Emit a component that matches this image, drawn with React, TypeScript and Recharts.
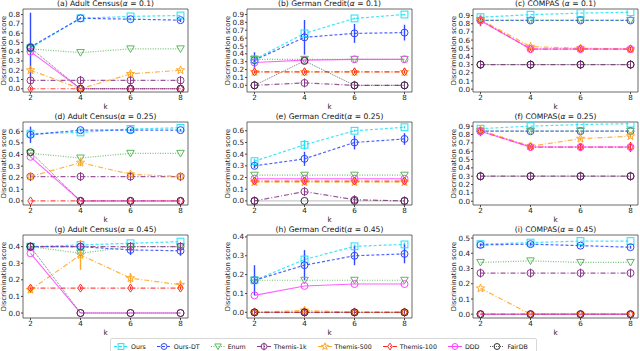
import React from "react";
import { LineChart, Line, XAxis, YAxis, ErrorBar, ReferenceArea } from "recharts";

// x values shared by every panel
const K = [2, 4, 6, 8];

const PANEL_NAMES = [
  "(a) Adult Census", "(b) German Credit", "(c) COMPAS ",
  "(d) Adult Census", "(e) German Credit", "(f) COMPAS",
  "(g) Adult Census", "(h) German Credit", "(i) COMPAS",
];
const ALPHAS = ["0.1", "0.1", "0.1", "0.25", "0.25", "0.25", "0.45", "0.45", "0.45"];

const Y_TICKS = [
  [0, 0.1, 0.2, 0.3, 0.4, 0.5, 0.6, 0.7, 0.8],
  [0, 0.1, 0.2, 0.3, 0.4, 0.5, 0.6, 0.7, 0.8, 0.9],
  [0, 0.1, 0.2, 0.3, 0.4, 0.5, 0.6, 0.7, 0.8, 0.9],
  [0, 0.1, 0.2, 0.3, 0.4, 0.5, 0.6],
  [0, 0.1, 0.2, 0.3, 0.4, 0.5, 0.6],
  [0, 0.1, 0.2, 0.3, 0.4, 0.5, 0.6, 0.7, 0.8, 0.9],
  [0, 0.1, 0.2, 0.3, 0.4],
  [0, 0.1, 0.2, 0.3, 0.4],
  [0, 0.1, 0.2, 0.3, 0.4, 0.5],
];
const Y_DOMAINS: [number, number][] = [
  [-0.035, 0.86], [-0.085, 0.97], [-0.035, 0.98],
  [-0.035, 0.68], [-0.035, 0.675], [-0.045, 0.95],
  [-0.03, 0.47], [-0.03, 0.41], [-0.025, 0.52],
];

// one row per panel (a)..(i), one value per k
const OURS = [
  [0.44, 0.76, 0.78, 0.79],
  [0.33, 0.66, 0.85, 0.9],
  [0.88, 0.91, 0.93, 0.94],
  [0.58, 0.59, 0.62, 0.63],
  [0.34, 0.48, 0.6, 0.63],
  [0.87, 0.9, 0.92, 0.93],
  [0.4, 0.41, 0.42, 0.43],
  [0.17, 0.28, 0.35, 0.36],
  [0.46, 0.47, 0.48, 0.48],
];
const OURS_ERR = [
  [0, 0, 0, 0],
  [0.02, 0.03, 0.01, 0.01],
  [0.03, 0, 0, 0],
  [0, 0, 0, 0],
  [0.02, 0.04, 0.01, 0.01],
  [0.02, 0, 0, 0],
  [0, 0, 0, 0],
  [0.01, 0.03, 0.01, 0.01],
  [0, 0, 0, 0],
];
const OURS_DT = [
  [0.45, 0.76, 0.75, 0.74],
  [0.32, 0.61, 0.66, 0.67],
  [0.84, 0.84, 0.84, 0.84],
  [0.57, 0.61, 0.61, 0.61],
  [0.3, 0.36, 0.5, 0.53],
  [0.84, 0.84, 0.84, 0.84],
  [0.4, 0.4, 0.38, 0.375],
  [0.17, 0.25, 0.3, 0.31],
  [0.455, 0.46, 0.45, 0.44],
];
const OURS_DT_ERR = [
  [0.37, 0.01, 0.01, 0.02],
  [0.1, 0.22, 0.12, 0.1],
  [0, 0, 0, 0],
  [0.07, 0.01, 0.01, 0.01],
  [0.02, 0.06, 0.06, 0.05],
  [0, 0, 0, 0],
  [0.02, 0.02, 0.03, 0.03],
  [0.08, 0.08, 0.05, 0.05],
  [0.01, 0.01, 0.01, 0.01],
];
const ENUM = [
  [0.43, 0.39, 0.43, 0.43],
  [0.33, 0.33, 0.33, 0.33],
  [0.84, 0.84, 0.84, 0.84],
  [0.41, 0.37, 0.41, 0.41],
  [0.22, 0.22, 0.22, 0.22],
  [0.84, 0.84, 0.84, 0.84],
  [0.4, 0.36, 0.4, 0.4],
  [0.17, 0.17, 0.17, 0.17],
  [0.34, 0.35, 0.34, 0.34],
];
const THEMIS_1K = [
  [0.09, 0.09, 0.09, 0.09],
  [0, 0.03, 0, 0],
  [0.3, 0.3, 0.3, 0.3],
  [0.21, 0.21, 0.21, 0.21],
  [0, 0.08, 0.01, 0],
  [0.3, 0.3, 0.3, 0.3],
  [0.4, 0.4, 0.4, 0.4],
  [0, 0, 0, 0],
  [0.27, 0.27, 0.27, 0.27],
];
const THEMIS_500 = [
  [0.2, 0, 0.16, 0.2],
  [0.17, 0.17, 0.17, 0.17],
  [0.85, 0.52, 0.5, 0.49],
  [0.21, 0.33, 0.23, 0.21],
  [0.16, 0.16, 0.16, 0.16],
  [0.85, 0.66, 0.75, 0.78],
  [0.14, 0.35, 0.21, 0.17],
  [0, 0.01, 0, 0],
  [0.17, 0, 0, 0],
];
const THEMIS_500_ERR = [
  [0.02, 0, 0.02, 0.01],
  [0, 0, 0, 0],
  [0, 0, 0, 0],
  [0.02, 0.03, 0.01, 0.01],
  [0, 0, 0, 0],
  [0, 0.02, 0.02, 0.02],
  [0.02, 0.09, 0.03, 0.02],
  [0, 0.01, 0, 0],
  [0, 0, 0, 0],
];
const THEMIS_100 = [
  [0, 0, 0, 0],
  [0.17, 0.17, 0.17, 0.17],
  [0.84, 0.49, 0.49, 0.49],
  [0, 0, 0, 0],
  [0.17, 0.17, 0.17, 0.17],
  [0.84, 0.65, 0.65, 0.65],
  [0.15, 0.15, 0.15, 0.15],
  [0, 0, 0, 0],
  [0, 0, 0, 0],
];
const THEMIS_100_ERR = [
  [0.02, 0, 0, 0],
  [0.02, 0.02, 0.02, 0.02],
  [0.07, 0.02, 0.03, 0.03],
  [0, 0, 0, 0],
  [0.02, 0.02, 0.02, 0.02],
  [0.06, 0.02, 0.05, 0.06],
  [0.01, 0.01, 0.01, 0.01],
  [0, 0, 0, 0],
  [0, 0, 0, 0],
];
const DDD = [
  [0.4, 0, 0, 0],
  [0.29, 0.32, 0.33, 0.33],
  [0.84, 0.49, 0.49, 0.49],
  [0.38, 0, 0, 0],
  [0.19, 0.19, 0.19, 0.19],
  [0.84, 0.65, 0.65, 0.65],
  [0.36, 0, 0, 0],
  [0.09, 0.14, 0.15, 0.15],
  [0, 0, 0, 0],
];
const FAIRDB = [
  [0.44, 0, 0, 0],
  [0, 0.31, 0, 0],
  [0.3, 0.3, 0.3, 0.3],
  [0.42, 0, 0, 0],
  [0, 0, 0, 0],
  [0.3, 0.3, 0.3, 0.3],
  [0.4, 0, 0, 0],
  [0, 0, 0, 0],
  [0, 0, 0, 0],
];

type Shape = "square" | "circle" | "tri" | "phi" | "star" | "diamond";

const SERIES: { key: string; name: string; color: string; dash?: string; shape: Shape; width: number; err?: boolean }[] = [
  { key: "ours", name: "Ours", color: "#22e0f5", dash: "3 2", shape: "square", width: 1.2, err: true },
  { key: "oursDt", name: "Ours-DT", color: "#3048ff", dash: "3 2", shape: "circle", width: 1.2, err: true },
  { key: "enum", name: "Enum", color: "#5cb85c", dash: "1 1.5", shape: "tri", width: 1.2 },
  { key: "t1k", name: "Themis-1k", color: "#8b3a8b", dash: "5 2 1 2", shape: "phi", width: 1.2 },
  { key: "t500", name: "Themis-500", color: "#ffa726", dash: "5 2 1 2", shape: "star", width: 1.2, err: true },
  { key: "t100", name: "Themis-100", color: "#ff2a2a", dash: "5 2 1 2", shape: "diamond", width: 1.2, err: true },
  { key: "ddd", name: "DDD", color: "#ff44ff", shape: "circle", width: 1.1 },
  { key: "fairdb", name: "FairDB", color: "#333333", dash: "1 1", shape: "circle", width: 0.8 },
];

const COL_X = [23, 247, 473];
const ROW_Y = [9, 122, 235];
const PLOT_W = 165;
const PLOT_H = 83;
const Y_AXIS_W = 24;
const TOP_PAD = 12;
const X_AXIS_H = 20;

function starPoints(cx: number, cy: number, R: number, r: number) {
  const pts: string[] = [];
  for (let i = 0; i < 10; i++) {
    const a = -Math.PI / 2 + (i * Math.PI) / 5;
    const rad = i % 2 === 0 ? R : r;
    pts.push(`${cx + rad * Math.cos(a)},${cy + rad * Math.sin(a)}`);
  }
  return pts.join(" ");
}

function Marker({ shape, cx, cy, color, s = 1 }: { shape: Shape; cx: number; cy: number; color: string; s?: number }) {
  const common = { fill: "none", stroke: color, strokeWidth: 1 };
  switch (shape) {
    case "square":
      return <rect x={cx - 3.4 * s} y={cy - 3.4 * s} width={6.8 * s} height={6.8 * s} {...common} />;
    case "tri":
      return <polygon points={`${cx - 3.8 * s},${cy - 3 * s} ${cx + 3.8 * s},${cy - 3 * s} ${cx},${cy + 3.6 * s}`} {...common} />;
    case "phi":
      return (
        <g>
          <circle cx={cx} cy={cy} r={3.5 * s} {...common} />
          <line x1={cx} x2={cx} y1={cy - 4.5 * s} y2={cy + 4.5 * s} stroke={color} strokeWidth={1} />
        </g>
      );
    case "star":
      return <polygon points={starPoints(cx, cy, 4.3 * s, 1.8 * s)} {...common} />;
    case "diamond":
      return <polygon points={`${cx},${cy - 4 * s} ${cx + 2.7 * s},${cy} ${cx},${cy + 4 * s} ${cx - 2.7 * s},${cy}`} {...common} />;
    default:
      return <circle cx={cx} cy={cy} r={3.5 * s} {...common} />;
  }
}

function Panel({ p }: { p: number }) {
  const col = p % 3;
  const row = Math.floor(p / 3);
  const W = Y_AXIS_W + PLOT_W + 2;
  const H = TOP_PAD + PLOT_H + X_AXIS_H;
  const dom = Y_DOMAINS[p];

  const data = K.map((k, i) => ({
    k,
    ours: OURS[p][i], oursErr: OURS_ERR[p][i],
    oursDt: OURS_DT[p][i], oursDtErr: OURS_DT_ERR[p][i],
    enum: ENUM[p][i],
    t1k: THEMIS_1K[p][i],
    t500: THEMIS_500[p][i], t500Err: THEMIS_500_ERR[p][i],
    t100: THEMIS_100[p][i], t100Err: THEMIS_100_ERR[p][i],
    ddd: DDD[p][i],
    fairdb: FAIRDB[p][i],
  }));

  return (
    <div style={{ position: "absolute", left: COL_X[col] - Y_AXIS_W, top: ROW_Y[row] - TOP_PAD, width: W, height: H }}>
      <div
        style={{
          position: "absolute", left: Y_AXIS_W, width: PLOT_W, top: 2, textAlign: "center",
          fontSize: 7.6, lineHeight: "10px", color: "#111", whiteSpace: "nowrap",
        }}
      >
        {PANEL_NAMES[p]}(<i>α</i> = {ALPHAS[p]})
      </div>
      <LineChart width={W} height={H} data={data} margin={{ top: TOP_PAD, right: 2, left: 0, bottom: 0 }}>
        <XAxis
          dataKey="k" type="number" domain={[1.7, 8.3]} ticks={K} interval={0} allowDataOverflow
          height={X_AXIS_H} tickSize={2} tickMargin={1} axisLine={false}
          tickLine={{ stroke: "#444" }} tick={{ fontSize: 7.2, fill: "#222" }}
          label={{ value: "k", position: "insideBottom", offset: 3, fontSize: 7.2, fill: "#222" }}
        />
        <YAxis
          type="number" domain={dom} ticks={Y_TICKS[p]} interval={0} allowDataOverflow
          width={Y_AXIS_W} tickSize={2} tickMargin={1} axisLine={false}
          tickLine={{ stroke: "#444" }} tick={{ fontSize: 7.2, fill: "#222" }}
          tickFormatter={(v: number) => v.toFixed(1)}
          label={{
            value: "Discrimination score", angle: -90, position: "insideLeft", offset: 5,
            fontSize: 6.8, fill: "#222", style: { textAnchor: "middle" },
          }}
        />
        <ReferenceArea x1={1.7} x2={8.3} y1={dom[0]} y2={dom[1]} fill="none" stroke="#444" strokeWidth={0.8} strokeOpacity={1} />
        {SERIES.map((s) => (
          <Line
            key={s.key}
            dataKey={s.key}
            type="linear"
            stroke={s.color}
            strokeWidth={s.width}
            strokeDasharray={s.dash}
            strokeOpacity={0.85}
            isAnimationActive={false}
            activeDot={false}
            dot={(props: any) => (
              <Marker key={`${s.key}-${props.index}`} shape={s.shape} cx={props.cx} cy={props.cy} color={s.color} />
            )}
          >
            {s.err ? (
              <ErrorBar dataKey={`${s.key}Err`} width={0} stroke={s.color} strokeWidth={1.4} direction="y" isAnimationActive={false} />
            ) : null}
          </Line>
        ))}
      </LineChart>
    </div>
  );
}

function LegendBox() {
  return (
    <div
      style={{
        position: "absolute", left: 110, top: 338, width: 427, height: 16,
        border: "1px solid #d8d8d8", borderRadius: 2, boxSizing: "border-box",
        display: "flex", alignItems: "center", gap: 11, paddingLeft: 3, fontSize: 6.3, color: "#111",
      }}
    >
      {SERIES.map((s) => (
        <div key={s.key} style={{ display: "flex", alignItems: "center", gap: 3 }}>
          <svg width={14} height={9}>
            <line x1={0} x2={14} y1={4.5} y2={4.5} stroke={s.color} strokeWidth={s.width} strokeDasharray={s.dash} />
            <Marker shape={s.shape} cx={7} cy={4.5} color={s.color} s={0.85} />
          </svg>
          <span>{s.name}</span>
        </div>
      ))}
    </div>
  );
}

export default function App() {
  return (
    <div
      style={{
        position: "absolute", left: 0, top: 0, width: 640, height: 351, background: "#fff",
        overflow: "hidden", fontFamily: '"DejaVu Sans", sans-serif',
      }}
    >
      {PANEL_NAMES.map((_, p) => (
        <Panel key={p} p={p} />
      ))}
      <LegendBox />
    </div>
  );
}
